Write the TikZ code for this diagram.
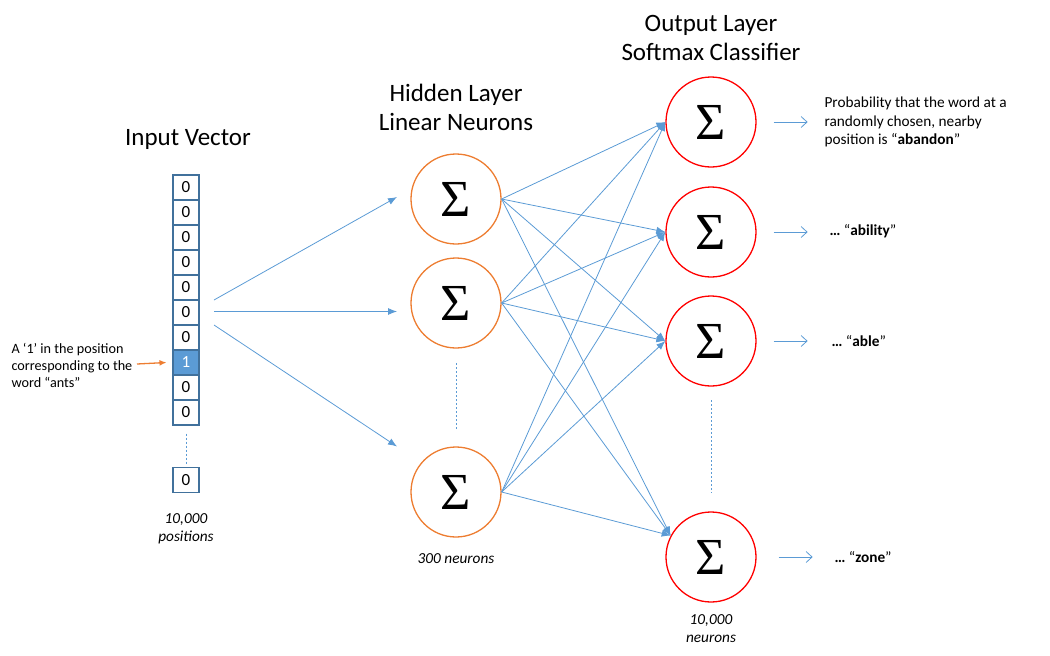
\documentclass[tikz,border=0pt]{standalone}
\usepackage{fontspec}
\setmainfont{Carlito}
\newfontfamily\sigfont{Liberation Serif}
\usetikzlibrary{arrows.meta}
\definecolor{lblue}{HTML}{5B9BD5}
\definecolor{cellborder}{HTML}{41719C}
\definecolor{orng}{HTML}{ED7D31}
\begin{document}
\begin{tikzpicture}[x=1pt,y=-1pt,
  cell/.style={draw=cellborder,line width=1.1pt,minimum width=26pt,minimum height=25pt,inner sep=0pt,font=\fontsize{17}{17}\selectfont},
  hid/.style={circle,draw=orng,line width=1.3pt,minimum size=90pt,inner sep=0pt,font=\sigfont\fontsize{52}{52}\selectfont},
  outn/.style={circle,draw=red,line width=1.3pt,minimum size=90pt,inner sep=0pt,font=\sigfont\fontsize{52}{52}\selectfont},
  conn/.style={draw=lblue,line width=0.8pt,-{Latex[length=9pt,width=7pt]}},
  outarr/.style={draw=lblue,line width=0.8pt,-{Straight Barb[length=6pt,width=11pt]}},
  dots/.style={draw=lblue,line width=0.9pt,dash pattern=on 2pt off 2pt},
  head/.style={align=center,font=\fontsize{25}{29}\selectfont},
  body/.style={align=left,anchor=west,font=\fontsize{15.3}{18.5}\selectfont},
  note/.style={align=center,font=\itshape\fontsize{15.3}{18}\selectfont}]
\useasboundingbox (0,0) rectangle (1050,656);

% input vector
\node[cell] (c0) at (186,187.5) {0};
\node[cell] (c1) at (186,212.5) {0};
\node[cell] (c2) at (186,237.5) {0};
\node[cell] (c3) at (186,262.5) {0};
\node[cell] (c4) at (186,287.5) {0};
\node[cell] (c5) at (186,312.5) {0};
\node[cell] (c6) at (186,337.5) {0};
\node[cell,fill=lblue,text=white] (c7) at (186,362.5) {1};
\node[cell] (c8) at (186,387.5) {0};
\node[cell] (c9) at (186,412.5) {0};
\node[cell] (cl) at (186,480) {0};
\draw[dots] ([yshift=-8pt]c9.south) -- ([yshift=2pt]cl.north);

\node[head] (tin) at (188,139) {Input Vector};
\node[note] (npos) at (186,529) {10,000\\positions};

\node[body,font=\fontsize{14.2}{17}\selectfont] (ants) at (8,365) {A ‘1’ in the position\\corresponding to the\\word “ants”};
\coordinate (oa) at (137,364);
\draw[orng,line width=1.3pt,-{Latex[length=7pt,width=6pt]}] (oa) -- ([xshift=-6pt]c7.west);

% hidden layer
\node[hid] (h1) at (456,199) {Σ};
\node[hid] (h2) at (456,303) {Σ};
\node[hid] (h3) at (456,492) {Σ};
\draw[dots] (456,363) -- (456,430);
\node[head] (thid) at (456,107) {Hidden Layer\\Linear Neurons};
\node[note] (n300) at (456,559) {300 neurons};

\coordinate (s1) at (214,300);
\coordinate (s2) at (214,311.5);
\coordinate (s3) at (214,325);
\coordinate (e1) at (397,197);
\coordinate (e2) at (397,311.5);
\coordinate (e3) at (397,446.5);
\draw[conn] (s1) -- (e1);
\draw[conn] (s2) -- (e2);
\draw[conn] (s3) -- (e3);

% output layer
\node[outn] (o1) at (711,122) {Σ};
\node[outn] (o2) at (711,232) {Σ};
\node[outn] (o3) at (711,341) {Σ};
\node[outn] (o4) at (711,557) {Σ};
\draw[dots] (711,400) -- (711,493);
\node[head] (tout) at (711,38) {Output Layer\\Softmax Classifier};
\node[note] (n10k) at (711,629) {10,000\\neurons};

\foreach \h in {h1,h2,h3}{
  \draw[conn] (\h.east) -- (o1.west);
  \draw[conn] (\h.east) -- (o2.west);
  \draw[conn] (\h.east) -- (o3.west);
  \draw[conn] (\h.east) -- (o4.152);
}

% outputs
\draw[outarr] ([xshift=17pt]o1.east) -- ++(34,0);
\draw[outarr] ([xshift=17pt]o2.east) -- ++(34,0);
\draw[outarr] ([xshift=17pt]o3.east) -- ++(34,0);
\draw[outarr] ([xshift=22pt]o4.east) -- ++(34,0);

\node[body] (p1) at (821,122) {Probability that the word at a\\randomly chosen, nearby\\position is “\textbf{abandon}”};
\node[body] (p2) at (826,231) {\textbf{…} “\textbf{ability}”};
\node[body] (p3) at (828,341) {\textbf{…} “\textbf{able}”};
\node[body] (p4) at (831,557) {\textbf{…} “\textbf{zone}”};
\end{tikzpicture}
\end{document}
